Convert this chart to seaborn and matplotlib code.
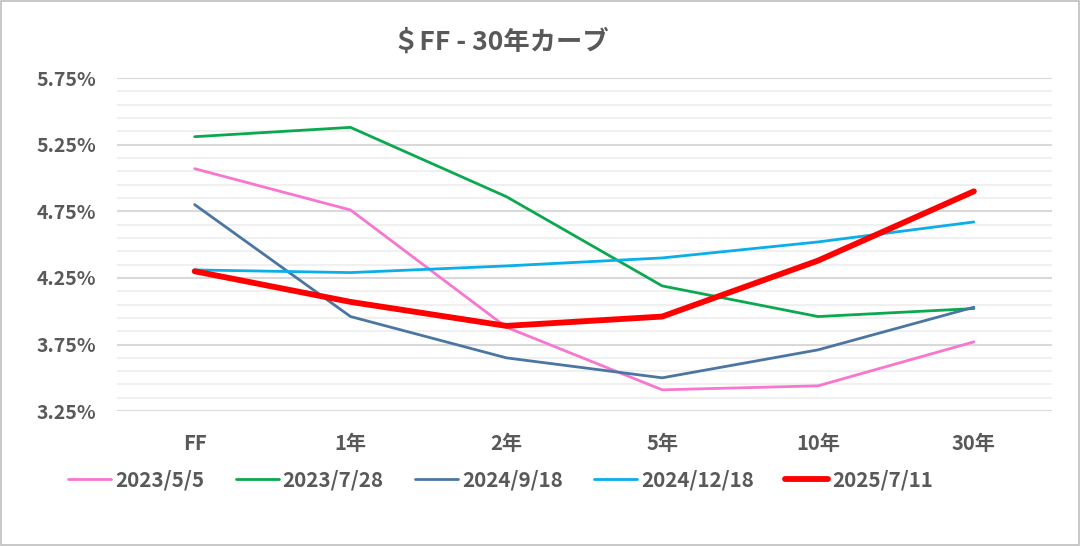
import numpy as np
import pandas as pd
import matplotlib
matplotlib.use("Agg")
import matplotlib.pyplot as plt
import seaborn as sns
from matplotlib.ticker import MultipleLocator, FuncFormatter
from matplotlib.patches import Rectangle

tenors = ["FF", "1年", "2年", "5年", "10年", "30年"]
dates = ["2023/5/5", "2023/7/28", "2024/9/18", "2024/12/18", "2025/7/11"]
r_20230505 = [5.07, 4.76, 3.88, 3.41, 3.44, 3.77]
r_20230728 = [5.31, 5.38, 4.86, 4.19, 3.96, 4.02]
r_20240918 = [4.80, 3.96, 3.65, 3.50, 3.71, 4.03]
r_20241218 = [4.31, 4.29, 4.34, 4.40, 4.52, 4.67]
r_20250711 = [4.30, 4.07, 3.89, 3.96, 4.38, 4.90]
colors = ["#F776CF", "#0AA84F", "#4A76A1", "#0AAEE8", "#FF0000"]
widths = [2.0, 2.0, 2.0, 2.0, 4.2]

series = [r_20230505, r_20230728, r_20240918, r_20241218, r_20250711]
df = pd.DataFrame({
    "pos": np.tile(np.arange(len(tenors)), len(dates)),
    "rate": np.concatenate(series),
    "date": np.repeat(dates, len(tenors)),
})

sns.set_style("white")
plt.rcParams["font.family"] = ["Noto Sans CJK JP", "DejaVu Sans"]
text_col = "#595959"

fig = plt.figure(figsize=(10.81, 5.46), dpi=100)
ax = fig.add_axes([0.108, 0.247, 0.865, 0.61])

for d, c, w in zip(dates, colors, widths):
    sub = df[df["date"] == d]
    sns.lineplot(data=sub, x="pos", y="rate", color=c, linewidth=w,
                 label=d, ax=ax, solid_capstyle="round", solid_joinstyle="round")

ax.set_xlim(-0.5, len(tenors) - 0.5)
ax.set_ylim(3.25, 5.75)
ax.yaxis.set_major_locator(MultipleLocator(0.5, offset=0.25))
ax.yaxis.set_minor_locator(MultipleLocator(0.1, offset=0.05))
ax.yaxis.set_major_formatter(FuncFormatter(lambda v, p: f"{v:.2f}%"))
ax.grid(which="major", axis="y", color="#D9D9D9", linewidth=1.5)
ax.grid(which="minor", axis="y", color="#F0F0F0", linewidth=1.5)
ax.set_axisbelow(True)
ax.set_xticks(np.arange(len(tenors)))
ax.set_xticklabels(tenors)
ax.tick_params(axis="both", which="both", length=0, labelcolor=text_col)
ax.tick_params(axis="x", labelsize=14.5, pad=16)
ax.tick_params(axis="y", labelsize=14, pad=15)
for lab in ax.get_xticklabels() + ax.get_yticklabels():
    lab.set_fontweight("bold")
for s in ax.spines.values():
    s.set_visible(False)
ax.set_xlabel("")
ax.set_ylabel("")

handles, labels = ax.get_legend_handles_labels()
ax.get_legend().remove()
leg = fig.legend(handles, labels, loc="center", bbox_to_anchor=(0.463, 0.121),
                 ncol=5, frameon=False, handlelength=2.1, handletextpad=0.2,
                 columnspacing=1.5, prop={"weight": "bold", "size": 14.8})
for t in leg.get_texts():
    t.set_color(text_col)

fig.text(0.463, 0.923, "＄FF - 30年カーブ", ha="center", va="center",
         fontsize=19, fontweight="bold", color=text_col)

fig.patches.append(Rectangle((0.0005, 0.001), 0.998, 0.997, transform=fig.transFigure,
                             fill=False, edgecolor="#BFBFBF", linewidth=1.2))

fig.savefig("out.png", dpi=100)
